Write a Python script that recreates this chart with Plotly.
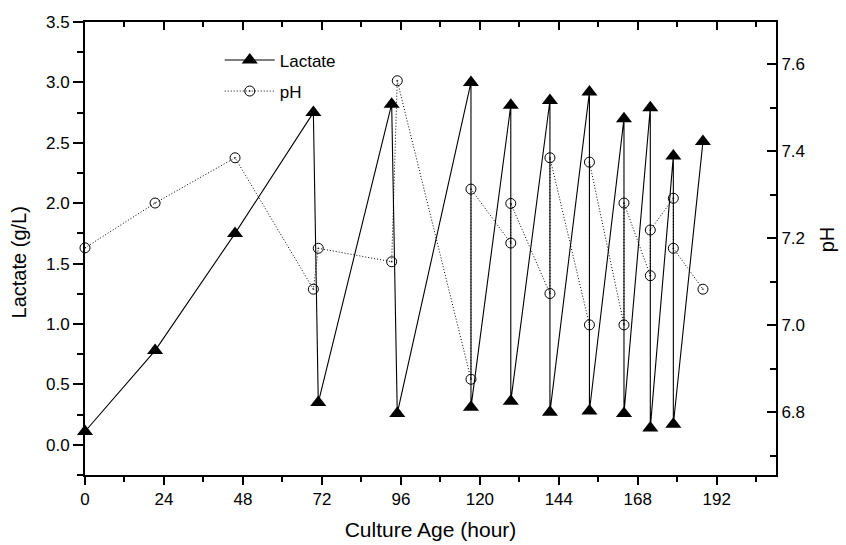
import plotly.graph_objects as go

# Culture age (hour) for each sample
hours = [0, 21.3, 45.6, 69.4, 70.9, 93.2, 94.9, 117.3, 117.3, 129.4, 129.4,
         141.3, 141.3, 153.3, 153.3, 163.8, 163.8, 171.8, 171.8, 178.8, 178.8, 187.8]

# Lactate (g/L)
lactate = [0.11, 0.78, 1.75, 2.75, 0.35, 2.82, 0.26, 3.0, 0.31, 2.81, 0.36,
           2.85, 0.27, 2.92, 0.28, 2.70, 0.26, 2.79, 0.14, 2.39, 0.17, 2.51]

# pH
ph = [7.178, 7.281, 7.385, 7.083, 7.177, 7.146, 7.562, 6.876, 7.313, 7.189, 7.280,
      7.073, 7.385, 7.001, 7.375, 7.001, 7.281, 7.114, 7.219, 7.292, 7.177, 7.083]

x_ticks = [0, 24, 48, 72, 96, 120, 144, 168, 192]
x_tick_labels = [str(v) for v in x_ticks]

FONT = "Liberation Sans, Arial, sans-serif"

fig = go.Figure()

fig.add_trace(go.Scatter(
    x=hours, y=lactate, name="Lactate", mode="lines+markers",
    line=dict(color="black", width=1.1),
    marker=dict(symbol="triangle-up", size=14, color="black"),
    cliponaxis=False, legendgroup="a",
))

fig.add_trace(go.Scatter(
    x=hours, y=ph, name="pH", mode="lines+markers", yaxis="y2",
    line=dict(color="black", width=1, dash="1px,2px"),
    marker=dict(symbol="circle-open-dot", size=10, color="black", line=dict(width=1)),
    cliponaxis=False, legendgroup="b",
))

# empty trace so the top mirror axis is drawn
fig.add_trace(go.Scatter(x=[], y=[], xaxis="x2", showlegend=False, hoverinfo="skip"))

common_axis = dict(showline=True, linecolor="black", linewidth=2, showgrid=False,
                   zeroline=False, tickcolor="black", tickwidth=1.5, automargin=False,
                   tickfont=dict(family=FONT, size=17, color="black"))

fig.update_layout(
    width=846, height=545,
    margin=dict(l=85, r=70, t=22, b=70),
    paper_bgcolor="white", plot_bgcolor="white",
    font=dict(family=FONT, color="black"),
    xaxis=dict(range=[0, 210], tickvals=x_ticks, ticktext=x_tick_labels,
               ticks="outside", ticklen=8,
               minor=dict(dtick=12, tick0=0, ticks="outside", ticklen=5,
                          tickcolor="black", tickwidth=1.5),
               title=dict(text="Culture Age (hour)", font=dict(size=21), standoff=14),
               **common_axis),
    xaxis2=dict(range=[0, 210], overlaying="x", side="top", tickvals=x_ticks,
                showticklabels=False, ticks="inside", ticklen=8,
                minor=dict(dtick=12, tick0=0, ticks="inside", ticklen=5,
                           tickcolor="black", tickwidth=1.5),
                **common_axis),
    yaxis=dict(range=[-0.25, 3.5], dtick=0.5, tick0=0, tickformat=".1f",
               ticks="outside", ticklen=10,
               minor=dict(dtick=0.25, tick0=0, ticks="outside", ticklen=6,
                          tickcolor="black", tickwidth=1.5),
               **common_axis),
    yaxis2=dict(range=[6.656, 7.697], overlaying="y", side="right", dtick=0.2, tick0=6.8,
                tickformat=".1f", ticks="inside", ticklen=9,
                minor=dict(dtick=0.1, tick0=6.8, ticks="inside", ticklen=6,
                           tickcolor="black", tickwidth=1.5),
                **common_axis),
    showlegend=True,
    legend=dict(x=0.195, y=0.955, xanchor="left", yanchor="top",
                bgcolor="rgba(0,0,0,0)", font=dict(family=FONT, size=17),
                traceorder="grouped", tracegroupgap=6, itemwidth=50),
    annotations=[
        dict(text="Lactate (g/L)", xref="paper", yref="paper", x=-0.095, y=0.47,
             xanchor="center", yanchor="middle", textangle=-90, showarrow=False,
             font=dict(family=FONT, size=20)),
        dict(text="pH", xref="paper", yref="paper", x=1.075, y=0.52,
             xanchor="center", yanchor="middle", textangle=-90, showarrow=False,
             font=dict(family=FONT, size=20)),
    ],
)

fig.write_html("out.html")
